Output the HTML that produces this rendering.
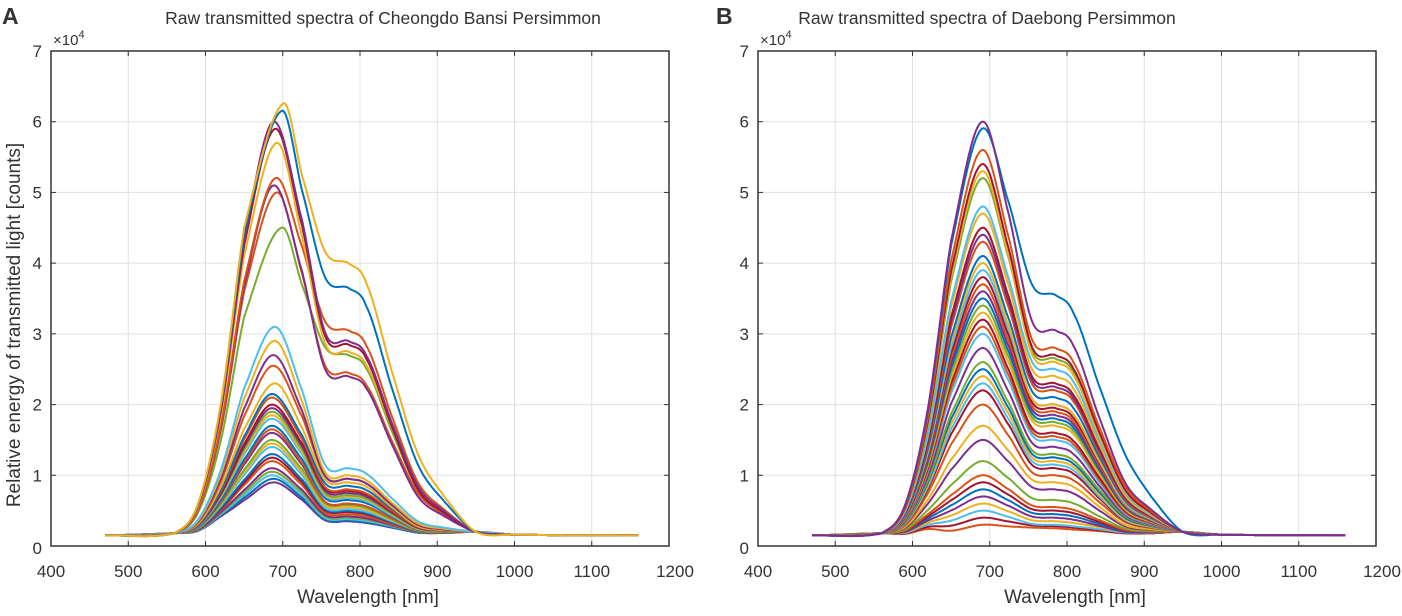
<!DOCTYPE html>
<html><head><meta charset="utf-8">
<style>
html,body{margin:0;padding:0;background:#fff;}
body{width:1402px;height:611px;overflow:hidden;font-family:"Liberation Sans",Arial,sans-serif;}
svg text{font-family:"Liberation Sans",Arial,sans-serif;fill:#333;}
</style></head>
<body>
<svg id="chart" width="1402" height="611" viewBox="0 0 1402 611" xmlns="http://www.w3.org/2000/svg"></svg>
<script>
// ---- data (units of 1e4 counts) ----
const xTicks = [400,500,600,700,800,900,1000,1100,1200];
const yTicks = [0,1,2,3,4,5,6,7];
const colorCycle = ["#0072BD","#D95319","#EDB120","#7E2F8E","#77AC30","#4DBEEE","#A2142F"];

const aPeaks = [6.25,6.15,6.0,5.9,5.7,5.2,5.1,5.0,4.5,3.1,2.9,2.7,2.55,2.3,2.15,2.1,2.0,1.95,1.9,1.85,1.8,1.7,1.65,1.6,1.5,1.45,1.4,1.3,1.25,1.2,1.1,1.05,1.0,0.95,0.9];
const aShoulders = [4.0,3.65,2.9,2.85,2.75,3.05,2.4,2.45,2.7,1.1,1.0,0.95,0.95,0.9,0.85,0.8,0.78,0.75,0.72,0.7,0.68,0.65,0.6,0.6,0.58,0.55,0.52,0.5,0.48,0.45,0.42,0.4,0.38,0.36,0.35];
const aTails = [1.3,1.15,0.85,0.8,0.85,0.9,0.7,0.75,0.8,0.35,0.32,0.3,0.3,0.28,0.28,0.27,0.26,0.26,0.25,0.25,0.24,0.24,0.23,0.23,0.22,0.22,0.22,0.21,0.21,0.2,0.2,0.2,0.2,0.19,0.19];
const aPeakX = [700,698,688,690,692,690,688,692,698,690,690,688,688,690,686,686,686,686,686,686,686,686,686,686,686,686,686,686,686,686,686,686,686,688,688];
const aColors = [2,0,3,6,2,1,3,1,4,5,2,3,1,2,0,1,6,3,4,2,5,0,1,3,4,2,5,0,6,1,3,4,5,0,3];

const bPeaks = [6.0,5.9,5.6,5.4,5.3,5.2,4.8,4.7,4.5,4.4,4.3,4.1,4.0,3.9,3.8,3.7,3.6,3.5,3.4,3.3,3.2,3.1,3.0,2.8,2.6,2.5,2.4,2.3,2.2,2.0,1.7,1.5,1.2,1.0,0.9,0.8,0.7,0.6,0.5,0.4,0.3];
const bShoulders = [3.05,3.55,2.8,2.7,2.6,2.65,2.5,2.4,2.3,2.25,2.2,2.1,2.0,2.0,1.95,1.9,1.85,1.8,1.75,1.7,1.6,1.55,1.5,1.4,1.3,1.25,1.2,1.15,1.1,1.0,0.9,0.8,0.65,0.55,0.5,0.45,0.4,0.35,0.3,0.28,0.25];
const bTails = [0.9,1.3,0.85,0.8,0.78,0.8,0.75,0.72,0.7,0.68,0.66,0.64,0.62,0.6,0.6,0.58,0.56,0.55,0.54,0.52,0.5,0.48,0.46,0.44,0.42,0.4,0.38,0.37,0.36,0.34,0.3,0.28,0.25,0.23,0.22,0.21,0.2,0.2,0.19,0.18,0.18];
const bColors = [3,0,1,6,2,4,5,2,6,3,1,0,2,5,6,1,3,0,4,2,6,1,5,3,4,0,2,5,6,1,2,3,4,1,6,0,3,2,5,6,1];

const svgNS = "http://www.w3.org/2000/svg";
const svg = document.getElementById("chart");
function el(tag, attrs, parent){const e=document.createElementNS(svgNS,tag);for(const k in attrs)e.setAttribute(k,attrs[k]);(parent||svg).appendChild(e);return e;}

function catmull(pts, step){
  const out=[];
  for(let i=0;i<pts.length-1;i++){
    const p0=pts[Math.max(0,i-1)],p1=pts[i],p2=pts[i+1],p3=pts[Math.min(pts.length-1,i+2)];
    for(let x=p1[0];x<p2[0];x+=step){
      const t=(x-p1[0])/(p2[0]-p1[0]);
      const t2=t*t,t3=t2*t;
      const y=0.5*((2*p1[1])+(-p0[1]+p2[1])*t+(2*p0[1]-5*p1[1]+4*p2[1]-p3[1])*t2+(-p0[1]+3*p1[1]-3*p2[1]+p3[1])*t3);
      out.push([x,y]);
    }
  }
  out.push(pts[pts.length-1]);
  return out;
}

function panel(cfg){
  const g=el("g",{});
  
  
  const L=cfg.left,R=cfg.right,T=51,B=546;
  const xs=v=>L+(v-400)/800*(R-L);
  const ys=v=>B-v/7*(B-T);
  xTicks.forEach(t=>{if(t>400&&t<1200){const l=el("line",{x1:xs(t),x2:xs(t),y1:T,y2:B,stroke:"#e0e0e0","stroke-width":1},g);}});
  yTicks.forEach(t=>{if(t>0&&t<7){const l=el("line",{x1:L,x2:R,y1:ys(t),y2:ys(t),stroke:"#e0e0e0","stroke-width":1},g);}});
  const clip=el("g",{},g);
  
  
  for(let i=cfg.peaks.length-1;i>=0;i--){
    const P=cfg.peaks[i],S=cfg.shoulders[i],Tl=cfg.tails[i],px=cfg.peakX[i];
    const b=0.15;
    const knots=[[470,b],[560,b+0.03],[590,b+0.07*P],[620,0.3*P+b],[650,0.72*P],[px,P],[725,S+0.55*(P-S)],[755,S*1.04],[785,S],[808,S*0.93],[840,Tl+0.45*(S-Tl)],[875,Tl],[910,Tl*0.45+0.1],[950,0.2],[1000,0.16],[1160,0.15]];
    const pts=catmull(knots,2);
    const d=pts.map((p,j)=>(j?"L":"M")+xs(p[0]).toFixed(1)+","+ys(Math.max(p[1],0.12)).toFixed(1)).join("");
    const path=el("path",{d:d,fill:"none",stroke:colorCycle[cfg.colors[i]],"stroke-width":2},clip);
    
    
  }
  const box=el("rect",{x:L,y:T,width:R-L,height:B-T,fill:"none",stroke:"#333","stroke-width":1.5},g);
  
  
  xTicks.forEach(t=>{
    const tk=el("line",{x1:xs(t),x2:xs(t),y1:B,y2:B-5,stroke:"#333"},g);
    
    const tk2=el("line",{x1:xs(t),x2:xs(t),y1:T,y2:T+5,stroke:"#333"},g);
    
    const tx=el("text",{x:xs(t)+(t===1200?6:0),y:B+31,"text-anchor":"middle","font-size":"17"},g);
    tx.textContent=t;
    
  });
  yTicks.forEach(t=>{
    const tk=el("line",{x1:L,x2:L+5,y1:ys(t),y2:ys(t),stroke:"#333"},g);
    
    const tk2=el("line",{x1:R,x2:R-5,y1:ys(t),y2:ys(t),stroke:"#333"},g);
    
    const tx=el("text",{x:L-9,y:ys(t)+(t===0?8:6),"text-anchor":"end","font-size":"17"},g);
    tx.textContent=t;
    
  });
  const ex=el("text",{x:L+2,y:T-6,"font-size":"15",fill:"#666"},g);
  ex.innerHTML='×10<tspan dy="-7" font-size="11">4</tspan>';
  
  const ti=el("text",{x:cfg.titleX,y:24,"text-anchor":"middle","font-size":"17.5",fill:"#222"},g);
  ti.textContent=cfg.title;
  
  const xl=el("text",{x:(L+R)/2+8,y:603,"text-anchor":"middle","font-size":"19"},g);
  xl.textContent="Wavelength  [nm]";
  
  const pl=el("text",{x:cfg.letterX,y:24,"font-size":"23","font-weight":"bold",fill:"#000"},g);
  pl.textContent=cfg.letter;
  
  return g;
}

panel({name:"panel-a-cheongdo",left:51,right:669,peaks:aPeaks,shoulders:aShoulders,tails:aTails,peakX:aPeakX,colors:aColors,title:"Raw transmitted spectra of Cheongdo Bansi Persimmon",titleX:383,letter:"A",letterX:2});
const bPeakX=bPeaks.map(()=>690);
panel({name:"panel-b-daebong",left:758,right:1376,peaks:bPeaks,shoulders:bShoulders,tails:bTails,peakX:bPeakX,colors:bColors,title:"Raw transmitted spectra of Daebong Persimmon",titleX:987,letter:"B",letterX:716});

const yl=el("text",{x:0,y:0,"text-anchor":"middle","font-size":"19",transform:"translate(20,325) rotate(-90)"});
yl.textContent="Relative energy of transmitted light  [counts]";


</script>
</body></html>
